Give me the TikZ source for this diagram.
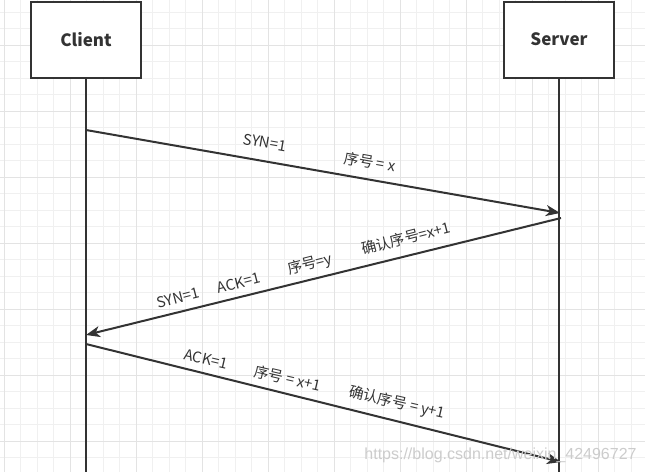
\documentclass[tikz,border=0pt]{standalone}
\usepackage{fontspec}
\setmainfont{Noto Sans CJK SC}
\newfontfamily\wmfont{Liberation Sans}
\usetikzlibrary{arrows.meta}
\definecolor{ink}{HTML}{333333}
\begin{document}
\begin{tikzpicture}[x=1pt,y=-1pt,
  gridminor/.style={draw=black!6, line width=0.9pt},
  gridmajor/.style={draw=black!11, line width=0.9pt},
  actor/.style={draw=ink, line width=2pt, fill=white, minimum width=110pt, minimum height=76pt, inner sep=0pt, font=\fontsize{17}{20}\selectfont\bfseries, text=ink},
  life/.style={draw=ink, line width=2pt},
  msg/.style={draw=ink, line width=2pt, -{Stealth[length=14pt,width=11pt,inset=4pt]}},
  lbl/.style={font=\fontsize{14.8}{17}\selectfont, text=ink, inner sep=0pt},
  wm/.style={font=\wmfont\fontsize{16}{18}\selectfont, text=black!20, inner sep=0pt},
]
\useasboundingbox (0,0) rectangle (645,472);
\fill[white] (0,0) rectangle (645,472);
% grid
\foreach \i in {0,...,38} { \draw[gridminor] ({4.3+16.5*\i},0) -- ({4.3+16.5*\i},472); }
\foreach \j in {0,...,27} { \draw[gridminor] (0,{12+16.5*\j}) -- (645,{12+16.5*\j}); }
\foreach \k in {0,...,9} { \draw[gridmajor] ({4.3+66*\k},0) -- ({4.3+66*\k},472); }
\foreach \k in {0,...,6} { \draw[gridmajor] (0,{45+66*\k}) -- (645,{45+66*\k}); }

% actors
\node[actor] (client) at (86,39.5) {Client};
\node[actor] (server) at (559,39.5) {Server};
\coordinate (cend) at (86,472);
\coordinate (send) at (559,472);
\draw[life] (client.south) -- (cend);
\draw[life] (server.south) -- (send);

% message points
\coordinate (c1) at (86,130);
\coordinate (s1) at (560,213);
\coordinate (s2) at (561,218);
\coordinate (c2) at (86,335);
\coordinate (c3) at (86,344);
\coordinate (s3) at (561,462);

\draw[msg] (c1) -- (s1);
\draw[msg] (s2) -- (c2);
\draw[msg] (c3) -- (s3);

% labels message 1
\node[lbl, rotate=-10] (l11) at (265,142.5) {SYN=1};
\node[lbl, rotate=-10] (l12) at (370,162) {序号 = x};
% labels message 2
\node[lbl, rotate=14.5] (l21) at (178,298) {SYN=1};
\node[lbl, rotate=14.5] (l22) at (239,283) {ACK=1};
\node[lbl, rotate=14.5] (l23) at (310,264.5) {序号=y};
\node[lbl, rotate=14.5] (l24) at (406,238) {确认序号=x+1};
% labels message 3
\node[lbl, rotate=-13] (l31) at (206,359) {ACK=1};
\node[lbl, rotate=-13] (l32) at (288,378.5) {序号 = x+1};
\node[lbl, rotate=-13] (l33) at (397,403) {确认序号 = y+1};

% watermark
\node[wm] (wmark) at (500.5,455) {https://blog.csdn.net/weixin\_42496727};
\end{tikzpicture}
\end{document}
